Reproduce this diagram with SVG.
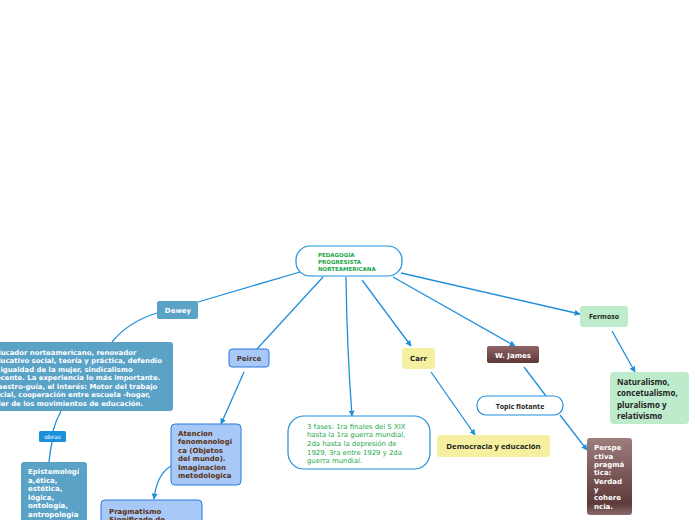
<svg xmlns="http://www.w3.org/2000/svg" width="696" height="520" viewBox="0 0 696 520">
<defs>
<style>
.c{fill:none;stroke:#1f8fdc;stroke-width:1.3}
.b{font-family:"DejaVu Sans",Verdana,sans-serif;font-weight:bold}
.w{fill:#fff}
.br{fill:#5a3010}
.dk{fill:#222}
.g{fill:#1aa84a}
</style>
<marker id="a" viewBox="0 0 10 10" refX="9" refY="5" markerWidth="6" markerHeight="6" orient="auto" markerUnits="userSpaceOnUse"><path d="M0,0 L10,5 L0,10 z" fill="#1f8fdc"/></marker>
<linearGradient id="gj" x1="0" y1="0" x2="0" y2="1"><stop offset="0" stop-color="#8e6565"/><stop offset="1" stop-color="#5e3838"/></linearGradient>
<linearGradient id="gp" x1="0" y1="0" x2="0" y2="1"><stop offset="0" stop-color="#9e7d7d"/><stop offset="0.85" stop-color="#5e3a3a"/><stop offset="1" stop-color="#8a6a6a"/></linearGradient>
</defs>
<g id="connectors">
<path class="c" d="M300,272 L198,302"/>
<path class="c" d="M157,313 Q128,322 112,342"/>
<path class="c" d="M61,411 Q56,420 53,431"/>
<path class="c" d="M52,442 Q50,452 49,462"/>
<path class="c" d="M323,277 L257,349"/>
<path class="c" d="M244,372 L221,424" marker-end="url(#a)"/>
<path class="c" d="M171,466 Q157,474 154,499" marker-end="url(#a)"/>
<path class="c" d="M346,277 Q347,350 352,416" marker-end="url(#a)"/>
<path class="c" d="M362,280 L411,346" marker-end="url(#a)"/>
<path class="c" d="M431,372 L475,435" marker-end="url(#a)"/>
<path class="c" d="M393,277 L515,346" marker-end="url(#a)"/>
<path class="c" d="M524,367 L546,396"/>
<path class="c" d="M560,415 L587,450" marker-end="url(#a)"/>
<path class="c" d="M401,273 L580,314" marker-end="url(#a)"/>
<path class="c" d="M612,331 L635,372" marker-end="url(#a)"/>
</g>
<g id="central">
<rect x="296" y="246" width="106" height="30" rx="14" fill="#fff" stroke="#1f8fdc" stroke-width="1.2"/>
<text class="b g" font-size="5.5"><tspan x="318" y="257">PEDAGOGÍA</tspan><tspan x="318" y="264">PROGRESISTA</tspan><tspan x="318" y="271">NORTEAMERICANA</tspan></text>
</g>
<g id="dewey">
<rect x="157" y="301" width="41" height="18" rx="2" fill="#5aa2c6"/>
<text class="b w" font-size="7" x="178" y="313" text-anchor="middle">Dewey</text>
</g>
<g id="dewey-desc">
<rect x="-10" y="342" width="183" height="69" rx="3" fill="#5aa2c6"/>
<text class="b w" font-size="6.9"><tspan x="-9" y="355">Educador norteamericano, renovador</tspan><tspan x="-9" y="363">educativo social, teoría  y práctica, defendio</tspan><tspan x="-9" y="372">la igualdad de la mujer, sindicalismo</tspan><tspan x="-9" y="380">docente. La experiencia lo más importante.</tspan><tspan x="-9" y="389">Maestro-guía, el interés: Motor del trabajo</tspan><tspan x="-9" y="397">social, cooperación entre escuela -hogar,</tspan><tspan x="-9" y="406">líder de los movimientos de educación.</tspan></text>
</g>
<g id="obras">
<rect x="39" y="431" width="27" height="11" rx="1.5" fill="#1a90dc"/>
<text x="52.5" y="439" font-family="DejaVu Sans,sans-serif" font-size="6" fill="#fff" text-anchor="middle">obras</text>
</g>
<g id="epistemologia">
<rect x="21" y="462" width="66" height="64" rx="3" fill="#5aa2c6"/>
<text class="b w" font-size="7"><tspan x="28" y="474">Epistemologí</tspan><tspan x="28" y="483">a,ética,</tspan><tspan x="28" y="491">estética,</tspan><tspan x="28" y="500">lógica,</tspan><tspan x="28" y="508">ontología,</tspan><tspan x="28" y="517">antropologia</tspan></text>
</g>
<g id="peirce">
<rect x="229" y="349" width="40" height="18" rx="3" fill="#a8c8f8" stroke="#2a78e0" stroke-width="1"/>
<text class="b" font-size="7" fill="#4a3a2a" x="249" y="361" text-anchor="middle">Peirce</text>
</g>
<g id="atencion">
<rect x="171" y="424" width="70" height="61" rx="4" fill="#a8c8f8" stroke="#2a78e0" stroke-width="1"/>
<text class="b br" font-size="7"><tspan x="178" y="436">Atencion</tspan><tspan x="178" y="444">fenomenologi</tspan><tspan x="178" y="453">ca (Objetos</tspan><tspan x="178" y="461">del mundo).</tspan><tspan x="178" y="470">Imaginacion</tspan><tspan x="178" y="478">metodologica</tspan></text>
</g>
<g id="pragmatismo">
<rect x="101" y="500" width="101" height="30" rx="4" fill="#a8c8f8" stroke="#2a78e0" stroke-width="1"/>
<text class="b br" font-size="7"><tspan x="109" y="514">Pragmatismo</tspan><tspan x="109" y="522">Significado de</tspan></text>
</g>
<g id="fases">
<rect x="288" y="416" width="142" height="53" rx="16" fill="#fff" stroke="#1f8fdc" stroke-width="1.2"/>
<text font-family="DejaVu Sans,sans-serif" font-size="6.9" class="g"><tspan x="307" y="429">3 fases: 1ra finales del S XIX</tspan><tspan x="307" y="437">hasta la 1ra guerra mundial,</tspan><tspan x="307" y="446">2da hasta la depresión de</tspan><tspan x="307" y="455">1929, 3ra entre 1929 y 2da</tspan><tspan x="307" y="463">guerra mundial.</tspan></text>
</g>
<g id="carr">
<rect x="402" y="348" width="33" height="21" rx="3" fill="#f4f0a0"/>
<text class="b dk" font-size="7" x="418.5" y="361" text-anchor="middle">Carr</text>
</g>
<g id="democracia">
<rect x="437" y="435" width="113" height="22" rx="3" fill="#f4f0a0"/>
<text font-family="Open Sans,sans-serif" font-weight="bold" font-size="7.8" class="dk" x="493.5" y="449" text-anchor="middle">Democracia y educación</text>
</g>
<g id="wjames">
<rect x="487" y="346" width="52" height="17" rx="2" fill="url(#gj)"/>
<text class="b w" font-size="7" x="513" y="357.5" text-anchor="middle">W. James</text>
</g>
<g id="topic">
<rect x="477" y="396" width="86" height="19" rx="9" fill="#fff" stroke="#1f8fdc" stroke-width="1.2"/>
<text font-family="Open Sans,sans-serif" font-weight="bold" font-size="7" class="dk" x="520" y="408.5" text-anchor="middle">Topic flotante</text>
</g>
<g id="fermoso">
<rect x="580" y="306" width="48" height="21" rx="3" fill="#bdebcb"/>
<text font-family="Open Sans,sans-serif" font-weight="bold" font-size="7" class="dk" x="604" y="319" text-anchor="middle">Fermoso</text>
</g>
<g id="naturalismo">
<rect x="610" y="372" width="79" height="52" rx="4" fill="#bdebcb"/>
<text font-family="Open Sans,sans-serif" font-weight="bold" font-size="8" class="dk"><tspan x="617" y="385">Naturalismo,</tspan><tspan x="617" y="396">concetualismo,</tspan><tspan x="617" y="408">pluralismo y</tspan><tspan x="617" y="419">relativismo</tspan></text>
</g>
<g id="perspectiva">
<rect x="587" y="438" width="45" height="77" rx="3" fill="url(#gp)"/>
<text class="b w" font-size="7"><tspan x="594" y="450">Perspe</tspan><tspan x="594" y="459">ctiva</tspan><tspan x="594" y="467">pragmá</tspan><tspan x="594" y="475">tica:</tspan><tspan x="594" y="484">Verdad</tspan><tspan x="594" y="492">y</tspan><tspan x="594" y="500">cohere</tspan><tspan x="594" y="509">ncia.</tspan></text>
</g>
</svg>
